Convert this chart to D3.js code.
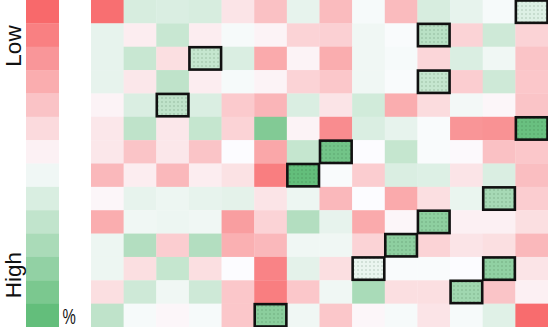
<!DOCTYPE html>
<html>
<head>
<meta charset="utf-8">
<script src="https://cdn.jsdelivr.net/npm/d3@7"></script>
<style>
  html, body { margin: 0; padding: 0; background: #fff; }
  svg { display: block; }
</style>
</head>
<body>
<svg id="chart" width="548" height="327"></svg>
<script>
// ---- data ----
const rowIds = d3.range(14);
const colIds = d3.range(14);
const legendSteps = d3.range(14).map(i => i / 13 * 100);
const legendLabels = ["Low", "High"];
const unitLabel = "%";
const values = [
  [ 2, 62, 61, 62, 42, 30, 57, 28, 52, 28, 62, 57, 52, 60],
  [57, 45, 67, 45, 52, 47, 36, 35, 54, 51, 72, 36, 65, 36],
  [57, 67, 40, 68, 61, 22, 47, 23, 54, 52, 37, 61, 54, 31],
  [57, 43, 70, 45, 52, 47, 36, 32, 54, 51, 68, 34, 65, 32],
  [47, 61, 70, 61, 33, 26, 61, 42, 64, 23, 39, 53, 48, 31],
  [43, 70, 43, 68, 36, 90, 47, 12, 61, 57, 51, 15, 14, 98],
  [43, 31, 43, 31, 50, 21, 68, 95, 50, 68, 51, 49, 30, 32],
  [27, 45, 27, 45, 41,  7,100, 51, 34, 61, 60, 42, 61, 29],
  [48, 57, 55, 57, 58, 42, 55, 27, 50, 22, 40, 56, 78, 34],
  [23, 54, 55, 54, 18, 36, 74, 57, 22, 48, 86, 46, 46, 40],
  [55, 74, 34, 74, 24, 27, 54, 54, 36, 86, 36, 42, 40, 27],
  [55, 40, 68, 40, 50,  9, 58, 40, 56, 51, 51, 50, 85, 42],
  [40, 65, 54, 65, 32,  7, 32, 54, 77, 40, 40, 80, 31, 46],
  [70, 52, 48, 52, 32, 87, 54, 32, 48, 52, 42, 52, 59,  1]
];
const highlights = [
  [0,13],[1,10],[2,3],[3,10],[4,2],[5,13],[6,7],[7,6],
  [8,12],[9,10],[10,9],[11,8],[11,12],[12,11],[13,5]
];

// ---- drawing ----
const W = 548, H = 327;
const svg = d3.select("#chart");
const color = d3.scaleLinear().domain([0, 50, 100])
  .range(["#F8696B", "#FCFCFF", "#63BE7B"]);

const x = d3.scaleBand().domain(colIds).range([91, W]);
const y = d3.scaleBand().domain(rowIds).range([0, H]);
const ly = d3.scaleBand().domain(d3.range(legendSteps.length)).range([0, H]);

const defs = svg.append("defs");
const pat = defs.append("pattern")
  .attr("id", "dots").attr("patternUnits", "userSpaceOnUse")
  .attr("width", 4).attr("height", 4);
pat.append("rect").attr("x", 1.5).attr("y", 1.5).attr("width", 1).attr("height", 1)
  .attr("fill", "rgba(20,70,30,0.45)");

// legend
svg.append("g").selectAll("rect").data(legendSteps).join("rect")
  .attr("x", 26).attr("width", 33)
  .attr("y", (d, i) => ly(i)).attr("height", ly.bandwidth() + 0.3)
  .attr("fill", d => color(d));

const labelFont = "Liberation Sans, Arial, sans-serif";
svg.append("text").text(legendLabels[0])
  .attr("transform", `translate(20.5,46) rotate(-90)`)
  .attr("text-anchor", "middle")
  .style("font-family", labelFont)
  .style("font-size", "22.5px").attr("fill", "#111");
svg.append("text").text(legendLabels[1])
  .attr("transform", `translate(20.5,275) rotate(-90)`)
  .attr("text-anchor", "middle")
  .style("font-family", labelFont)
  .style("font-size", "22.5px").attr("fill", "#111");
svg.append("text").text(unitLabel)
  .attr("transform", "translate(62.5,323.5) scale(0.68,1)")
  .style("font-family", "Liberation Sans Narrow, Arial Narrow, Liberation Sans, sans-serif")
  .style("font-size", "22px").attr("fill", "#111");

// cells
const cells = [];
values.forEach((row, r) => row.forEach((v, c) => cells.push({r, c, v})));
svg.append("g").selectAll("rect").data(cells).join("rect")
  .attr("x", d => x(d.c)).attr("y", d => y(d.r))
  .attr("width", x.bandwidth() + 0.3).attr("height", y.bandwidth() + 0.3)
  .attr("fill", d => color(d.v));

// highlighted cells
const hg = svg.append("g");
hg.selectAll("rect.pat").data(highlights).join("rect")
  .attr("class", "pat")
  .attr("x", d => x(d[1])).attr("y", d => y(d[0]))
  .attr("width", x.bandwidth()).attr("height", y.bandwidth())
  .attr("fill", "url(#dots)");
hg.selectAll("rect.bd").data(highlights).join("rect")
  .attr("class", "bd")
  .attr("x", d => x(d[1]) + 0.5).attr("y", d => y(d[0]) + 0.5)
  .attr("width", x.bandwidth() - 1).attr("height", y.bandwidth() - 1)
  .attr("fill", "none").attr("stroke", "#111").attr("stroke-width", 2.6);
</script>
</body>
</html>
